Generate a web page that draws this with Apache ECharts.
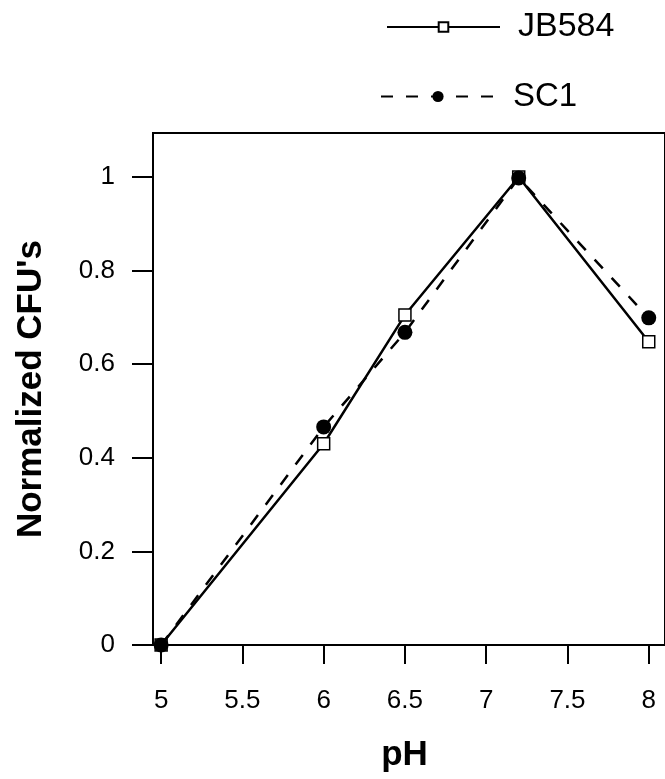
<!DOCTYPE html>
<html>
<head>
<meta charset="utf-8">
<script src="https://cdn.jsdelivr.net/npm/echarts@6/dist/echarts.min.js"></script>
<style>
html, body { margin: 0; padding: 0; background: #fff; }
#box { width: 665px; height: 779px; }
</style>
</head>
<body>
<div id="box"></div>
<script>
// values
var phValues = [5, 6, 6.5, 7.2, 8];
var jb584 = [0, 0.43, 0.705, 1.0, 0.648];
var sc1 = [0, 0.466, 0.668, 0.998, 0.699];
var xTicks = [5, 5.5, 6, 6.5, 7, 7.5, 8];
var yTicks = [0, 0.2, 0.4, 0.6, 0.8, 1];

var font = 'Liberation Sans';

function pairs(xs, ys) {
	return xs.map(function (x, i) { return [x, ys[i]]; });
}

var myChart = echarts.init(document.getElementById('box'));
var option = {
	animation: false,
	textStyle: { fontFamily: font },
	legend: [
		{
			data: ['JB584'],
			left: 381,
			top: 5,
			itemWidth: 113,
			itemHeight: 12,
			textStyle: { fontSize: 34, color: '#000', fontFamily: font, padding: [0, 0, 0, 13] }
		},
		{
			data: ['SC1'],
			left: 375,
			top: 75,
			itemWidth: 114,
			itemHeight: 14,
			textStyle: { fontSize: 33, color: '#000', fontFamily: font, padding: [0, 0, 0, 13] }
		}
	],
	grid: {
		left: 153,
		right: -8,
		top: 133,
		bottom: 134,
		show: true,
		borderColor: '#000',
		borderWidth: 2,
		containLabel: false
	},
	xAxis: {
		type: 'value',
		min: 4.95,
		max: 8.1,
		name: 'pH',
		nameLocation: 'middle',
		nameGap: 93,
		nameTextStyle: { fontSize: 35, fontWeight: 'bold', color: '#000', fontFamily: font, padding: [0, 9, 0, 0] },
		axisLine: { show: true, onZero: false, lineStyle: { color: '#000', width: 2 } },
		axisTick: { show: true, length: 19, customValues: xTicks, lineStyle: { color: '#000', width: 2 } },
		axisLabel: { customValues: xTicks, margin: 43, fontSize: 26, color: '#000', fontFamily: font },
		splitLine: { show: false }
	},
	yAxis: {
		type: 'value',
		min: 0,
		max: 1.094,
		name: "Normalized CFU's",
		nameLocation: 'middle',
		nameGap: 104,
		nameTextStyle: { fontSize: 35, fontWeight: 'bold', color: '#000', fontFamily: font },
		axisLine: { show: true, onZero: false, lineStyle: { color: '#000', width: 2 } },
		axisTick: { show: true, length: 21, customValues: yTicks, lineStyle: { color: '#000', width: 2 } },
		axisLabel: { customValues: yTicks, margin: 38, fontSize: 26, color: '#000', fontFamily: font, padding: [10, 0, 0, 0] },
		splitLine: { show: false }
	},
	series: [
		{
			name: 'JB584',
			type: 'line',
			data: pairs(phValues, jb584),
			symbol: 'rect',
			symbolSize: 12,
			showAllSymbol: true,
			z: 3,
			lineStyle: { color: '#000', width: 2.5, type: 'solid' },
			itemStyle: { color: '#fff', borderColor: '#000', borderWidth: 1.5 }
		},
		{
			name: 'SC1',
			type: 'line',
			data: pairs(phValues, sc1),
			symbol: 'circle',
			symbolSize: 15,
			showAllSymbol: true,
			z: 4,
			lineStyle: { color: '#000', width: 2.5, type: [12, 13] },
			itemStyle: { color: '#000', borderColor: '#000', borderWidth: 0 }
		}
	]
};
myChart.setOption(option);
</script>
</body>
</html>
